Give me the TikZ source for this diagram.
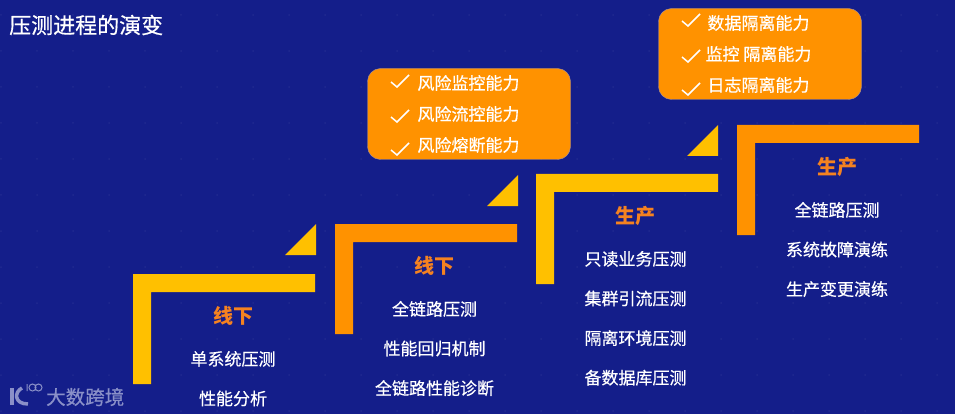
\documentclass[tikz,border=0pt]{standalone}
\usepackage{fontspec}
\setmainfont{Noto Sans CJK SC}
\newfontfamily\cjkmed[FakeBold=0.5]{Noto Sans CJK SC}
\usepackage{tikz}
\usetikzlibrary{positioning}
\definecolor{cbg}{RGB}{20,30,138}
\definecolor{cyel}{RGB}{255,192,0}
\definecolor{corg}{RGB}{255,146,0}
\definecolor{chead}{RGB}{245,130,32}
\definecolor{cmark}{RGB}{138,144,200}
\tikzset{
  head/.style={font=\fontsize{20}{20}\selectfont\bfseries, text=chead, inner sep=0pt, minimum height=20pt},
  item/.style={font=\cjkmed\fontsize{17}{17}\selectfont, text=white, inner sep=0pt, minimum height=20pt},
  tick/.style={draw=white, line width=1.5pt},
  tipbox/.style={draw=cmark!80!corg, fill=corg, rounded corners=13pt, minimum width=203pt, minimum height=91pt, inner sep=0pt},
}
\newcommand{\chk}[1]{\draw[tick] (#1) ++(-18,-2) -- ++(6,5) -- ++(12,-12);}

\begin{document}
\begin{tikzpicture}[x=1pt, y=-1pt, node distance=19.2pt]
  \fill[cbg] (0,0) rectangle (955,414);
  \useasboundingbox (0,0) rectangle (955,414);
  % faint dots of the backdrop
  \foreach \i in {0,...,26} \foreach \j in {0,...,11}
    \fill[white, opacity=0.05] (1+36*\i,15+36*\j) circle (1);
  \node[anchor=west, font=\cjkmed\fontsize{22}{22}\selectfont, text=white, inner sep=0pt] (title) at (9,25) {压测进程的演变};

  % steps
  \foreach \sx/\sy/\col in {133/274/cyel, 335/224/corg, 536/174/cyel, 737/125/corg}
    \fill[\col] (\sx,\sy) -- ++(182,0) -- ++(0,18) -- ++(-164,0) -- ++(0,92) -- ++(-18,0) -- cycle;
  \foreach \sx/\sy in {316/224, 518/175, 718/125}
    \fill[cyel] (\sx,\sy) -- ++(0,31) -- ++(-31,0) -- cycle;

  \node[head] (H1) at (233,316) {线下};
  \node[item, below=22.5pt of H1] (H1a) {单系统压测};
  \node[item, below=of H1a] (H1b) {性能分析};

  \node[head] (H2) at (434.5,266) {线下};
  \node[item, below=22.5pt of H2] (H2a) {全链路压测};
  \node[item, below=of H2a] (H2b) {性能回归机制};
  \node[item, below=of H2b] (H2c) {全链路性能诊断};

  \node[head] (H3) at (635.5,216) {生产};
  \node[item, below=22.5pt of H3] (H3a) {只读业务压测};
  \node[item, below=of H3a] (H3b) {集群引流压测};
  \node[item, below=of H3b] (H3c) {隔离环境压测};
  \node[item, below=of H3c] (H3d) {备数据库压测};

  \node[head] (H4) at (837,167) {生产};
  \node[item, below=22.5pt of H4] (H4a) {全链路压测};
  \node[item, below=of H4a] (H4b) {系统故障演练};
  \node[item, below=of H4b] (H4c) {生产变更演练};

  % tip boxes
  \node[tipbox] (B1) at (469,114) {};
  \node[item] (B1a) at (468.5,83) {风险监控能力};
  \node[item, below=10.6pt of B1a] (B1b) {风险流控能力};
  \node[item, below=10.6pt of B1b] (B1c) {风险熔断能力};
  \chk{409,84} \chk{409,119} \chk{409,152}

  \node[tipbox] (B2) at (760,54) {};
  \node[item] (B2a) at (758.5,23) {数据隔离能力};
  \node[item, below=10.6pt of B2a] (B2b) {监控 隔离能力};
  \node[item, below=10.6pt of B2b] (B2c) {日志隔离能力};
  \chk{700,23} \chk{700,59} \chk{700,92}

  % watermark
  \draw[cmark, line width=4pt] (12,388) -- (12,405);
  \draw[cmark, line width=3.5pt] (22,388) .. controls (14,392) and (14,404) .. (28,404);
  \draw[cmark, line width=1pt] (27,384) -- (27,391) (32.5,387.5) circle (3.5) (38.5,387.5) circle (3.5);
  \node[anchor=west, font=\cjkmed\fontsize{19.5}{19.5}\selectfont, text=cmark, inner sep=0pt] (mark) at (46,397) {大数跨境};
\end{tikzpicture}
\end{document}
